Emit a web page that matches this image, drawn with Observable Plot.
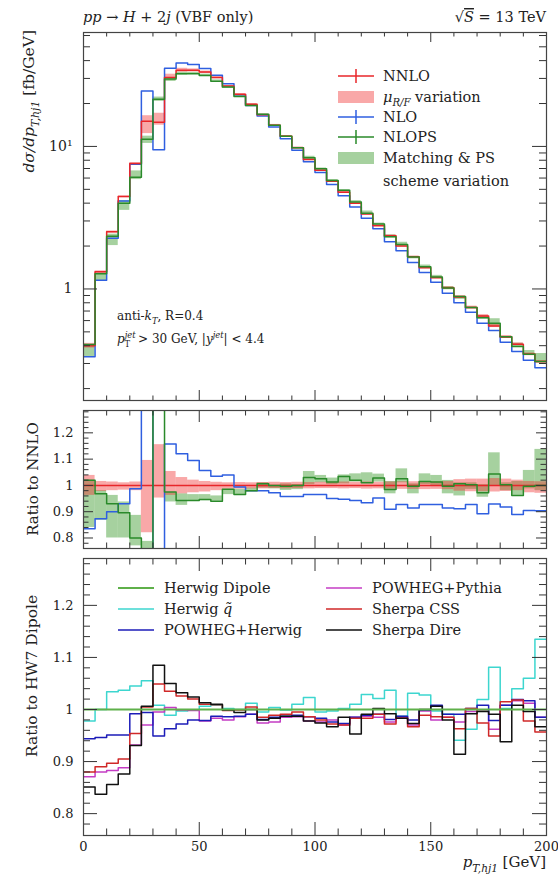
<!DOCTYPE html>
<html><head><meta charset="utf-8">
<script src="https://cdn.jsdelivr.net/npm/d3@7"></script>
<script src="https://cdn.jsdelivr.net/npm/@observablehq/plot@0.6"></script>
<style>
html,body{margin:0;padding:0;background:#fff;}
#chart{width:558px;height:878px;overflow:hidden;}
#chart svg{display:block;}
</style></head><body><div id="chart"></div>
<script>
// ---------- data ----------
const binEdges = [0,5,10,15,20,25,30,35,40,45,50,55,60,65,70,75,80,85,90,95,100,105,110,115,120,125,130,135,140,145,150,155,160,165,170,175,180,185,190,195,200];
const nnlo = [0.40,1.32,2.52,4.45,7.6,15.0,14.8,30.5,34.3,34.3,33.3,30.5,26.5,23.2,19.8,16.7,14.1,11.8,9.8,8.1,6.8,5.7,4.77,3.99,3.36,2.78,2.36,2.0,1.68,1.41,1.20,1.02,0.88,0.74,0.645,0.55,0.46,0.41,0.35,0.31];
const ratioNLO = [0.835,0.873,0.90,0.93,0.987,1.63,0.64,1.158,1.12,1.095,1.057,1.035,1.04,0.994,0.98,0.98,0.972,0.958,0.958,0.965,0.965,0.95,0.947,0.943,0.934,0.952,0.909,0.927,0.914,0.927,0.927,0.914,0.911,0.927,0.892,0.929,0.918,0.889,0.905,0.904];
const ratioNLOPS = [1.02,0.968,0.93,0.896,0.80,0.75,1.45,0.975,0.943,0.943,0.946,0.94,0.985,0.965,0.98,1.006,1.0,0.997,1.0,1.03,1.025,1.013,1.034,1.02,1.01,1.028,0.984,1.025,0.997,1.015,1.013,0.997,1.006,1.003,0.972,1.043,1.003,0.962,0.997,1.0];
const scaleLo = [0.962,0.977,0.98,0.982,0.98,0.82,0.952,0.962,0.968,0.972,0.975,0.98,0.985,0.986,0.987,0.987,0.988,0.987,0.988,0.987,0.988,0.988,0.987,0.988,0.986,0.987,0.986,0.985,0.985,0.984,0.985,0.984,0.978,0.976,0.976,0.975,0.977,0.98,0.972,0.97];
const scaleHi = [1.038,1.015,1.013,1.01,1.013,1.095,1.155,1.053,1.03,1.02,1.015,1.012,1.01,1.011,1.01,1.011,1.012,1.011,1.012,1.011,1.012,1.012,1.013,1.012,1.013,1.012,1.013,1.014,1.014,1.015,1.014,1.015,1.022,1.024,1.024,1.026,1.024,1.02,1.015,1.014];
const matchLo = [0.84,0.867,0.80,0.80,0.77,0.70,1.40,0.937,0.924,0.94,0.942,0.94,0.965,0.965,0.978,0.99,0.987,0.981,0.984,1.003,1.01,1.003,1.006,1.013,1.01,1.013,0.968,1.01,0.968,1.003,1.0,0.968,0.96,0.985,0.955,0.997,0.98,0.962,0.987,0.98];
const matchHi = [1.02,0.98,0.962,0.937,0.886,0.787,1.50,0.972,0.968,0.965,0.965,0.96,0.985,0.985,0.99,1.01,1.0,1.006,1.003,1.053,1.038,1.028,1.04,1.044,1.048,1.043,1.015,1.063,1.006,1.044,1.038,1.019,1.01,1.01,1.003,1.124,1.01,1.015,1.057,1.137];

const hwDipole = [1,1,1,1,1,1,1,1,1,1,1,1,1,1,1,1,1,1,1,1,1,1,1,1,1,1,1,1,1,1,1,1,1,1,1,1,1,1,1,1];
const hwQtilde = [0.978,1.0,1.034,1.037,1.045,1.055,1.008,0.989,0.997,0.999,1.006,1.008,1.002,1.0,1.012,0.995,1.004,0.999,1.01,1.023,0.995,0.997,1.002,1.01,1.029,1.021,1.037,0.987,1.031,1.028,0.997,0.991,0.941,0.962,1.019,1.081,1.002,1.04,1.06,1.135];
const powhegHerwig = [0.944,0.946,0.951,0.951,0.992,0.994,0.949,0.963,0.972,0.98,0.979,0.987,0.986,0.987,0.991,0.981,0.985,0.987,0.989,0.986,0.983,0.976,0.973,0.985,0.989,0.991,0.981,0.987,0.98,0.999,1.008,0.991,0.991,1.002,1.008,0.979,1.008,1.019,1.017,0.985];
const powhegPythia = [0.871,0.88,0.883,0.888,0.932,0.97,0.995,1.004,0.999,0.998,0.978,0.983,0.98,0.986,0.991,0.974,0.976,0.985,0.986,0.978,0.976,0.98,0.97,0.985,0.987,0.985,0.976,0.985,0.97,0.997,0.98,0.985,0.976,0.996,0.999,0.962,1.008,1.017,1.012,0.985];
const sherpaCSS = [0.88,0.89,0.897,0.905,0.954,1.005,1.049,1.035,1.026,1.02,1.01,1.009,0.998,0.999,1.005,0.985,0.989,0.991,0.995,0.986,0.98,0.972,0.97,0.983,0.983,0.991,0.972,0.983,0.967,0.989,0.986,0.985,0.963,1.002,0.974,0.949,1.015,1.018,0.978,0.957];
const sherpaDire = [0.851,0.837,0.856,0.876,0.931,1.006,1.085,1.05,1.032,1.024,1.013,1.01,0.999,0.994,1.0,0.98,0.983,0.987,0.987,0.978,0.974,0.967,0.985,0.953,0.991,1.002,0.992,0.983,0.973,1.0,1.006,0.98,0.914,0.992,0.996,0.991,0.938,1.008,0.996,0.967];

const xMajorTicks = [0,50,100,150,200];
const xMinorTicks = [10,20,30,40,60,70,80,90,110,120,130,140,160,170,180,190];
const logMajorTicks = [1,10];
const logMinorTicks = [0.2,0.3,0.4,0.5,0.6,0.7,0.8,0.9,2,3,4,5,6,7,8,9,20,30,40,50,60];
const ratioMajorTicks = [0.8,0.9,1,1.1,1.2];
const ratioMinorTicks = [0.78,0.82,0.84,0.86,0.88,0.92,0.94,0.96,0.98,1.02,1.04,1.06,1.08,1.12,1.14,1.16,1.18,1.22,1.24,1.26,1.28];

// ---------- style ----------
const W = 558, ML = 83, MR = 12, FW = W - ML - MR;
const FONT = "DejaVu Serif";
const C = {
  nnlo: "#e8262a", nlo: "#2f5fe0", nlops: "#2a8a2a",
  scaleFill: "#f03030", matchFill: "#3a9a2a",
  dip: "#5fb04a", qt: "#3dd6cf", ph: "#1c1cb8", pp: "#c43cc4", css: "#d02828", dire: "#111111"
};

function steps(vals) {
  const pts = vals.map((v, i) => ({x: binEdges[i], y: v}));
  pts.push({x: binEdges[vals.length], y: vals[vals.length - 1]});
  return pts;
}
function band(lo, hi) {
  return lo.map((l, i) => ({x1: binEdges[i], x2: binEdges[i + 1], y1: l, y2: hi[i]}));
}
function stepLine(vals, stroke, w = 1.5) {
  return Plot.line(steps(vals), {x: "x", y: "y", curve: "step-after", stroke, strokeWidth: w, clip: true});
}
function frameTicks(o) {
  const s = {stroke: "#333", strokeWidth: 1};
  return [
    Plot.tickY(o.yMajor, {y: d => d, insetRight: FW - o.yMajLen, ...s}),
    Plot.tickY(o.yMajor, {y: d => d, insetLeft: FW - o.yMajLen, ...s}),
    Plot.tickY(o.yMinor, {y: d => d, insetRight: FW - o.yMinLen, ...s}),
    Plot.tickY(o.yMinor, {y: d => d, insetLeft: FW - o.yMinLen, ...s}),
    Plot.tickX(xMajorTicks, {x: d => d, insetBottom: o.fh - o.xMajLen, ...s}),
    Plot.tickX(xMajorTicks, {x: d => d, insetTop: o.fh - o.xMajLen, ...s}),
    Plot.tickX(xMinorTicks, {x: d => d, insetBottom: o.fh - o.xMinLen, ...s}),
    Plot.tickX(xMinorTicks, {x: d => d, insetTop: o.fh - o.xMinLen, ...s})
  ];
}
function rich(g, x, y, parts, o) {
  const size = o.size;
  const t = g.append("text").attr("x", x).attr("y", y)
    .attr("font-family", FONT).attr("font-size", size)
    .attr("text-anchor", o.anchor || "start").attr("fill", "#222");
  if (o.rotate) t.attr("transform", `rotate(-90 ${x} ${y})`);
  let shift = 0;
  for (const p of parts) {
    const s = t.append("tspan").text(p.t);
    const target = p.sub ? size * 0.3 : p.sup ? -size * 0.42 : 0;
    const dy = target - shift;
    if (dy !== 0) s.attr("dy", dy);
    shift = target;
    if (p.dx) s.attr("dx", p.dx);
    if (p.i) s.attr("font-style", "italic");
    if (p.sub || p.sup) s.attr("font-size", size * 0.7);
    if (p.over) s.attr("text-decoration", "overline");
  }
  return t;
}

const chart = document.getElementById("chart");

// ---------- top panel ----------
const topH = 405, topMT = 32, topMB = 5;
const topPlot = Plot.plot({
  width: W, height: topH, marginLeft: ML, marginRight: MR, marginTop: topMT, marginBottom: topMB,
  style: {fontFamily: FONT, fontSize: "13px", background: "white", color: "#222"},
  x: {domain: [0, 200], axis: null},
  y: {type: "log", domain: [0.165, 63], axis: null},
  marks: [
    Plot.rect(band(matchLo.map((r, i) => r * nnlo[i]), matchHi.map((r, i) => r * nnlo[i])),
      {x1: "x1", x2: "x2", y1: "y1", y2: "y2", fill: C.matchFill, fillOpacity: 0.45, clip: true}),
    Plot.rect(band(scaleLo.map((r, i) => r * nnlo[i]), scaleHi.map((r, i) => r * nnlo[i])),
      {x1: "x1", x2: "x2", y1: "y1", y2: "y2", fill: C.scaleFill, fillOpacity: 0.42, clip: true}),
    stepLine(ratioNLO.map((r, i) => r * nnlo[i]), C.nlo),
    stepLine(nnlo, C.nnlo),
    stepLine(ratioNLOPS.map((r, i) => r * nnlo[i]), C.nlops),
    ...frameTicks({yMajor: logMajorTicks, yMinor: logMinorTicks, yMajLen: 14, yMinLen: 7, xMajLen: 10, xMinLen: 4.5, fh: topH - topMT - topMB}),
    Plot.axisY({ticks: logMajorTicks, tickSize: 0, tickPadding: 11, fontSize: 14, label: null,
      tickFormat: d => d === 1 ? "1" : "10\u00B9"}),
    Plot.frame({stroke: "#444", strokeWidth: 1.2})
  ]
});
chart.appendChild(topPlot);
{
  const g = d3.select(topPlot);
  rich(g, ML, 22, [{t: "pp", i: true}, {t: " \u2192 "}, {t: "H", i: true}, {t: " + 2"}, {t: "j", i: true}, {t: " (VBF only)"}], {size: 14.5});
  rich(g, 546, 22, [{t: "\u221A"}, {t: "S", i: true, over: true}, {t: " = 13 TeV"}], {size: 14.5, anchor: "end"});
  rich(g, 34, 30, [{t: "d\u03C3/dp", i: true}, {t: "T,hj1", i: true, sub: true}, {t: " [fb/GeV]"}], {size: 15.5, anchor: "end", rotate: true});
  // legend
  const lg = [
    {y: 76, type: "line", color: C.nnlo, label: [{t: "NNLO"}]},
    {y: 97, type: "rect", color: C.scaleFill, op: 0.42, label: [{t: "\u03BC", i: true}, {t: "R/F", i: true, sub: true}, {t: " variation"}]},
    {y: 117, type: "line", color: C.nlo, label: [{t: "NLO"}]},
    {y: 137, type: "line", color: C.nlops, label: [{t: "NLOPS"}]},
    {y: 158, type: "rect", color: C.matchFill, op: 0.45, label: [{t: "Matching & PS"}]}
  ];
  for (const it of lg) {
    if (it.type === "line") {
      g.append("line").attr("x1", 338).attr("x2", 374).attr("y1", it.y).attr("y2", it.y).attr("stroke", it.color).attr("stroke-width", 1.5);
      g.append("line").attr("x1", 356).attr("x2", 356).attr("y1", it.y - 7).attr("y2", it.y + 7).attr("stroke", it.color).attr("stroke-width", 1.5);
    } else {
      g.append("rect").attr("x", 338).attr("y", it.y - 6).attr("width", 36).attr("height", 12).attr("fill", it.color).attr("fill-opacity", it.op);
    }
    rich(g, 383, it.y + 5, it.label, {size: 14.5});
  }
  rich(g, 383, 186, [{t: "scheme variation"}], {size: 14.5});
  // annotation
  rich(g, 117, 320, [{t: "anti-"}, {t: "k", i: true}, {t: "T", i: true, sub: true}, {t: ", R=0.4"}], {size: 12});
  rich(g, 117, 343, [{t: "p", i: true}, {t: "jet", i: true, sup: true}, {t: "T", sub: true, dx: -11}, {t: " > 30 GeV, |", dx: 4}, {t: "y", i: true}, {t: "jet", i: true, sup: true}, {t: "| < 4.4"}], {size: 12});
}

// ---------- middle panel ----------
const midH = 148, midMT = 5, midMB = 5;
const midPlot = Plot.plot({
  width: W, height: midH, marginLeft: ML, marginRight: MR, marginTop: midMT, marginBottom: midMB,
  style: {fontFamily: FONT, fontSize: "13px", background: "white", color: "#222"},
  x: {domain: [0, 200], axis: null},
  y: {domain: [0.76, 1.285], axis: null},
  marks: [
    Plot.rect(band(matchLo, matchHi), {x1: "x1", x2: "x2", y1: "y1", y2: "y2", fill: C.matchFill, fillOpacity: 0.45, clip: true}),
    Plot.rect(band(scaleLo, scaleHi), {x1: "x1", x2: "x2", y1: "y1", y2: "y2", fill: C.scaleFill, fillOpacity: 0.42, clip: true}),
    Plot.ruleY([1], {stroke: C.nnlo, strokeWidth: 1.5}),
    stepLine(ratioNLO, C.nlo),
    stepLine(ratioNLOPS, C.nlops),
    ...frameTicks({yMajor: ratioMajorTicks, yMinor: ratioMinorTicks, yMajLen: 10, yMinLen: 5.5, xMajLen: 12, xMinLen: 5.5, fh: midH - midMT - midMB}),
    Plot.axisY({ticks: ratioMajorTicks, tickSize: 0, tickPadding: 10, fontSize: 13, label: null, tickFormat: d => String(d)}),
    Plot.frame({stroke: "#444", strokeWidth: 1.2})
  ]
});
chart.appendChild(midPlot);
rich(d3.select(midPlot), 38, 74, [{t: "Ratio to NNLO"}], {size: 15, anchor: "middle", rotate: true});

// ---------- bottom panel ----------
const botH = 325, botMT = 5, botMB = 43;
const botPlot = Plot.plot({
  width: W, height: botH, marginLeft: ML, marginRight: MR, marginTop: botMT, marginBottom: botMB,
  style: {fontFamily: FONT, fontSize: "13px", background: "white", color: "#222"},
  x: {domain: [0, 200], axis: null},
  y: {domain: [0.758, 1.29], axis: null},
  marks: [
    stepLine(hwQtilde, C.qt),
    stepLine(powhegPythia, C.pp),
    stepLine(powhegHerwig, C.ph),
    stepLine(sherpaCSS, C.css),
    stepLine(sherpaDire, C.dire),
    stepLine(hwDipole, C.dip, 2),
    ...frameTicks({yMajor: ratioMajorTicks, yMinor: ratioMinorTicks, yMajLen: 14, yMinLen: 7, xMajLen: 13, xMinLen: 6.5, fh: botH - botMT - botMB}),
    Plot.axisY({ticks: ratioMajorTicks, tickSize: 0, tickPadding: 10, fontSize: 13, label: null, tickFormat: d => String(d)}),
    Plot.axisX({ticks: xMajorTicks, tickSize: 0, tickPadding: 6, fontSize: 13, label: null, tickFormat: d => String(d)}),
    Plot.frame({stroke: "#444", strokeWidth: 1.2})
  ]
});
chart.appendChild(botPlot);
{
  const g = d3.select(botPlot);
  rich(g, 37, 123, [{t: "Ratio to HW7 Dipole"}], {size: 15.5, anchor: "middle", rotate: true});
  rich(g, 546, 314, [{t: "p", i: true}, {t: "T,hj1", i: true, sub: true}, {t: " [GeV]"}], {size: 15, anchor: "end"});
  const items = [
    {x: 118, y: 35, c: C.dip, w: 2, t: "Herwig Dipole"},
    {x: 118, y: 56, c: C.qt, w: 1.5, t: "Herwig q\u0303"},
    {x: 118, y: 77, c: C.ph, w: 1.5, t: "POWHEG+Herwig"},
    {x: 326, y: 35, c: C.pp, w: 1.5, t: "POWHEG+Pythia"},
    {x: 326, y: 56, c: C.css, w: 1.5, t: "Sherpa CSS"},
    {x: 326, y: 77, c: C.dire, w: 1.5, t: "Sherpa Dire"}
  ];
  for (const it of items) {
    g.append("line").attr("x1", it.x).attr("x2", it.x + 36).attr("y1", it.y).attr("y2", it.y).attr("stroke", it.c).attr("stroke-width", it.w);
    const parts = it.t.startsWith("Herwig q") ? [{t: "Herwig "}, {t: "q\u0303", i: true}] : [{t: it.t}];
    rich(g, it.x + 46, it.y + 5, parts, {size: 14.5});
  }
}
</script></body></html>
